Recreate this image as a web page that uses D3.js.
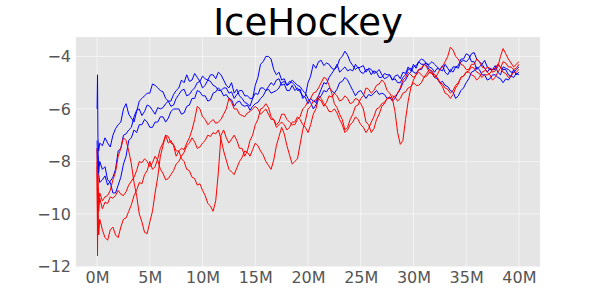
<!DOCTYPE html>
<html>
<head>
<meta charset="utf-8">
<script src="https://cdn.jsdelivr.net/npm/d3@7"></script>
<style>
  body { margin: 0; background: #fff; }
  svg { font-family: "DejaVu Sans", sans-serif; }
</style>
</head>
<body>
<svg id="chart" width="600" height="300"></svg>
<script>
// training steps in millions: a dense start, then every 0.25M
const stepsStart = [0, 0.04, 0.08, 0.15];
const steps = stepsStart.concat(d3.range(1, 161).map(i => i * 0.25));

// blue runs (4 start values, then 8 values per 2M)
const blue1 = [-6.0, -4.7, -7.1, -7.6,
  -7.3, -7.4, -7.1, -7.3, -7.45, -7.0, -6.75, -6.6,
  -6.5, -6.0, -5.8, -6.2, -6.35, -6.5, -6.1, -5.7,
  -5.6, -5.5, -5.4, -5.4, -5.05, -5.1, -5.2, -5.3,
  -5.35, -5.6, -5.7, -5.7, -5.45, -5.3, -5.2, -4.9,
  -5.0, -4.7, -4.95, -4.9, -4.65, -4.8, -4.95, -4.75,
  -4.85, -4.9, -4.7, -4.7, -4.85, -4.6, -4.7, -4.9,
  -5.1, -5.2, -5.0, -5.4, -5.25, -5.5, -5.6, -5.75,
  -5.8, -5.9, -5.6, -5.1, -4.8, -4.3, -4.2, -4.0,
  -4.0, -4.1, -4.5, -4.7, -4.6, -4.9, -4.85, -5.1,
  -4.95, -5.0, -5.1, -5.3, -5.25, -5.6, -5.5, -5.0,
  -4.75, -4.3, -4.45, -4.2, -4.15, -4.35, -4.25, -4.3,
  -4.45, -4.5, -4.3, -4.6, -4.5, -4.4, -4.55, -4.5,
  -4.55, -4.3, -4.45, -4.4, -4.35, -4.6, -4.45, -4.5,
  -4.65, -4.6, -4.5, -4.7, -4.85, -4.8, -4.7, -4.9,
  -4.75, -4.7, -4.85, -4.6, -4.65, -4.4, -4.55, -4.3,
  -4.45, -4.2, -4.1, -4.15, -4.3, -4.3, -4.2, -4.3,
  -4.4, -4.5, -4.35, -4.6, -4.7, -4.5, -4.6, -4.4,
  -4.45, -4.2, -4.15, -4.2, -4.1, -3.9, -3.85, -4.1,
  -4.2, -4.3, -4.15, -4.4, -4.5, -4.5, -4.35, -4.6,
  -4.7, -4.4, -4.45, -4.5, -4.6, -4.6, -4.5, -4.4];
const blue2 = [-7.5, -8.3, -7.8, -8.5,
  -8.8, -8.7, -8.55, -8.9, -8.75, -8.6, -8.3, -7.6,
  -7.5, -7.0, -6.95, -6.8, -6.7, -6.3, -6.05, -6.0,
  -6.25, -6.1, -5.85, -5.9, -6.05, -6.2, -5.95, -6.0,
  -5.95, -5.8, -5.7, -5.9, -5.85, -5.6, -5.45, -5.3,
  -5.25, -5.5, -5.45, -5.3, -5.2, -5.0, -4.95, -5.2,
  -5.1, -4.9, -4.95, -5.1, -5.15, -5.3, -5.3, -5.2,
  -5.2, -5.4, -5.35, -5.6, -5.45, -5.3, -5.3, -5.5,
  -5.5, -5.6, -5.6, -5.4, -5.45, -5.2, -5.2, -5.3,
  -5.15, -5.0, -5.1, -4.9, -4.85, -5.1, -5.05, -5.3,
  -5.3, -5.1, -5.3, -5.2, -5.35, -5.5, -5.55, -5.8,
  -5.6, -5.7, -5.75, -5.5, -5.25, -5.0, -5.05, -4.8,
  -4.65, -4.5, -4.4, -4.1, -4.0, -3.8, -3.95, -4.2,
  -4.35, -4.5, -4.4, -4.6, -4.65, -4.5, -4.5, -4.7,
  -4.55, -4.6, -4.8, -4.8, -4.65, -4.7, -4.7, -4.9,
  -4.85, -5.0, -5.0, -4.8, -4.7, -4.5, -4.45, -4.6,
  -4.65, -4.5, -4.5, -4.3, -4.25, -4.4, -4.45, -4.6,
  -4.45, -4.5, -4.55, -4.3, -4.45, -4.6, -4.4, -4.4,
  -4.35, -4.1, -4.1, -3.9, -3.95, -4.2, -4.2, -4.5,
  -4.4, -4.3, -4.45, -4.6, -4.45, -4.5, -4.5, -4.3,
  -4.4, -4.5, -4.5, -4.7, -4.75, -4.5, -4.7, -4.6];
const blue3 = [-7.2, -8.0, -7.6, -8.4,
  -8.0, -8.3, -8.2, -8.7, -8.8, -9.2, -9.2, -8.9,
  -8.6, -8.1, -7.8, -7.2, -7.1, -6.8, -6.9, -6.6,
  -6.6, -6.4, -6.5, -6.7, -6.7, -6.5, -6.5, -6.3,
  -6.3, -6.5, -6.35, -6.1, -6.0, -6.0, -6.0, -6.2,
  -6.15, -5.9, -5.85, -5.6, -5.6, -5.3, -5.35, -5.5,
  -5.5, -5.7, -5.65, -5.4, -5.35, -5.2, -5.3, -5.5,
  -5.45, -5.6, -5.65, -5.9, -5.75, -5.7, -5.85, -5.9,
  -5.85, -6.05, -5.9, -5.8, -5.75, -5.6, -5.5, -5.3,
  -5.25, -5.4, -5.35, -5.3, -5.2, -5.0, -4.95, -5.1,
  -5.05, -4.9, -5.0, -5.1, -5.15, -5.3, -5.4, -5.6,
  -5.75, -6.0, -5.85, -5.6, -5.5, -5.3, -5.35, -5.2,
  -5.3, -5.4, -5.25, -5.0, -4.95, -4.8, -4.9, -5.1,
  -5.3, -5.5, -5.35, -5.3, -5.45, -5.6, -5.45, -5.5,
  -5.4, -5.3, -5.45, -5.4, -5.45, -5.6, -5.55, -5.7,
  -5.6, -5.4, -5.25, -5.0, -4.9, -4.7, -4.6, -4.4,
  -4.35, -4.2, -4.3, -4.3, -4.35, -4.5, -4.6, -4.8,
  -4.85, -5.0, -4.95, -5.1, -5.15, -5.3, -5.35, -5.6,
  -5.5, -5.3, -5.2, -5.0, -4.85, -4.6, -4.55, -4.4,
  -4.5, -4.7, -4.7, -4.9, -4.85, -4.7, -4.7, -4.8,
  -4.85, -5.0, -4.85, -4.9, -4.75, -4.8, -4.65, -4.7];

// red runs (4 start values, then 8 values per 2M)
const red1 = [-7.5, -11.6, -9.5, -10.8,
  -10.2, -10.6, -10.9, -11.0, -10.6, -10.5, -10.8, -10.9,
  -10.5, -10.2, -10.15, -9.9, -9.65, -9.3, -9.1, -8.8,
  -8.85, -8.5, -8.35, -8.0, -8.3, -8.2, -7.9, -7.5,
  -7.3, -7.0, -7.3, -7.2, -7.4, -7.8, -7.6, -7.5,
  -7.55, -7.3, -7.1, -6.8, -6.4, -5.9, -6.0, -6.3,
  -6.4, -6.6, -6.5, -6.4, -6.55, -6.5, -6.4, -6.2,
  -6.0, -5.6, -5.75, -6.0, -6.0, -6.2, -6.25, -6.3,
  -6.15, -6.1, -6.0, -5.9, -6.0, -6.2, -6.1, -6.0,
  -6.2, -6.4, -6.4, -6.6, -6.5, -6.2, -6.2, -6.4,
  -6.5, -6.6, -6.6, -6.4, -6.3, -6.0, -5.9, -5.7,
  -5.6, -5.4, -5.35, -5.2, -5.0, -4.8, -4.85, -5.1,
  -5.4, -5.8, -5.95, -6.2, -6.4, -6.8, -6.7, -6.4,
  -6.2, -5.9, -5.85, -5.6, -5.5, -5.2, -5.25, -5.4,
  -5.3, -5.1, -5.05, -4.9, -5.0, -5.3, -5.4, -5.6,
  -5.5, -5.4, -5.2, -4.9, -4.8, -4.6, -4.7, -4.8,
  -4.7, -4.5, -4.45, -4.3, -4.4, -4.6, -4.65, -4.8,
  -4.7, -4.5, -4.4, -4.2, -4.0, -3.65, -3.75, -4.0,
  -4.1, -4.3, -4.35, -4.5, -4.5, -4.3, -4.3, -4.1,
  -4.2, -4.4, -4.45, -4.6, -4.7, -4.9, -4.8, -4.6,
  -4.45, -4.2, -4.25, -4.4, -4.4, -4.5, -4.45, -4.3];
const red2 = [-8.0, -9.8, -8.5, -9.6,
  -9.2, -9.5, -9.35, -9.3, -9.1, -8.7, -8.4, -7.8,
  -7.5, -7.1, -7.2, -7.6, -8.1, -8.8, -9.3, -10.0,
  -10.3, -10.7, -10.75, -10.3, -9.9, -9.2, -8.6, -7.8,
  -7.4, -7.0, -7.05, -7.3, -7.35, -7.6, -7.6, -7.9,
  -8.0, -8.3, -8.35, -8.6, -8.65, -8.9, -8.85, -9.1,
  -9.3, -9.6, -9.7, -9.9, -9.5, -8.4, -7.0, -6.8,
  -7.1, -7.3, -7.15, -7.0, -7.2, -7.5, -7.5, -7.8,
  -7.6, -7.2, -7.0, -6.6, -6.4, -6.0, -5.95, -5.8,
  -5.95, -6.3, -6.4, -6.7, -6.6, -6.5, -6.6, -6.8,
  -6.7, -6.5, -6.5, -6.3, -6.4, -6.6, -6.7, -6.9,
  -6.6, -6.2, -6.0, -5.6, -5.7, -5.9, -5.75, -5.5,
  -5.55, -5.4, -5.5, -5.7, -5.65, -5.5, -5.6, -5.8,
  -5.75, -5.6, -5.65, -5.8, -6.0, -6.5, -6.6, -6.9,
  -6.75, -6.4, -6.2, -5.9, -5.8, -5.6, -5.6, -5.5,
  -5.55, -5.7, -5.6, -5.4, -5.35, -5.2, -5.15, -5.0,
  -5.1, -5.1, -5.0, -4.8, -4.75, -4.6, -4.65, -4.7,
  -4.8, -5.0, -5.05, -5.2, -5.25, -5.4, -5.3, -5.1,
  -5.0, -4.8, -4.75, -4.6, -4.55, -4.4, -4.45, -4.6,
  -4.65, -4.8, -4.7, -4.7, -4.65, -4.5, -4.45, -4.3,
  -4.4, -4.6, -4.65, -4.8, -4.75, -4.6, -4.6, -4.5];
const red3 = [-8.2, -10.5, -9.0, -9.9,
  -9.4, -9.8, -9.55, -9.6, -9.35, -9.4, -9.3, -9.1,
  -9.25, -9.3, -9.15, -8.9, -8.75, -8.6, -8.35, -8.0,
  -8.05, -7.9, -8.0, -8.2, -8.05, -7.8, -7.95, -8.3,
  -8.45, -8.7, -8.65, -8.5, -8.35, -8.1, -8.0, -7.8,
  -7.65, -7.4, -7.3, -7.1, -7.25, -7.5, -7.45, -7.3,
  -7.2, -7.0, -7.05, -6.9, -6.95, -6.8, -7.15, -7.6,
  -7.95, -8.3, -8.4, -8.5, -8.25, -8.0, -7.85, -7.6,
  -7.65, -7.8, -7.55, -7.3, -7.4, -7.6, -7.75, -8.0,
  -8.15, -8.3, -7.95, -7.4, -7.05, -6.7, -6.95, -7.4,
  -7.75, -8.1, -8.0, -7.9, -7.35, -6.8, -6.45, -6.0,
  -5.9, -5.7, -5.65, -5.5, -5.6, -5.8, -5.9, -6.1,
  -6.1, -6.0, -6.15, -6.4, -6.6, -6.9, -6.8, -6.6,
  -6.5, -6.3, -6.4, -6.6, -6.7, -6.9, -6.75, -6.5,
  -6.3, -6.0, -5.95, -5.8, -5.75, -5.6, -5.55, -5.6,
  -6.1, -6.9, -7.35, -7.2, -6.4, -5.7, -5.2, -4.9,
  -4.7, -4.6, -4.7, -4.8, -4.65, -4.5, -4.55, -4.7,
  -4.8, -5.0, -5.15, -5.4, -5.45, -5.6, -5.45, -5.2,
  -5.05, -4.8, -4.75, -4.6, -4.6, -4.7, -4.75, -4.9,
  -4.8, -4.6, -4.55, -4.4, -4.45, -4.6, -4.55, -4.4,
  -4.0, -3.7, -3.9, -4.1, -4.25, -4.4, -4.3, -4.2];

const blueRuns = [blue1, blue2, blue3];
const redRuns = [red1, red2, red3];

const xTicks = [0, 5, 10, 15, 20, 25, 30, 35, 40];
const yTicks = [-12, -10, -8, -6, -4];

const svg = d3.select('#chart');
const plot = { left: 76, right: 540, top: 37, bottom: 267 };

const x = d3.scaleLinear().domain([-2, 42]).range([plot.left, plot.right]);
const y = d3.scaleLinear().domain([-12.02, -3.26]).range([plot.bottom, plot.top]);

// panel background
svg.append('rect')
  .attr('x', plot.left).attr('y', plot.top)
  .attr('width', plot.right - plot.left)
  .attr('height', plot.bottom - plot.top)
  .attr('fill', '#e5e5e5');

// grid
svg.append('g')
  .selectAll('line')
  .data(xTicks)
  .join('line')
  .attr('x1', d => x(d)).attr('x2', d => x(d))
  .attr('y1', plot.top).attr('y2', plot.bottom)
  .attr('stroke', '#ffffff').attr('stroke-opacity', 0.55).attr('stroke-width', 1);
svg.append('g')
  .selectAll('line')
  .data(yTicks)
  .join('line')
  .attr('x1', plot.left).attr('x2', plot.right)
  .attr('y1', d => y(d)).attr('y2', d => y(d))
  .attr('stroke', '#ffffff').attr('stroke-opacity', 0.55).attr('stroke-width', 1);

const line = d3.line()
  .x((d, i) => x(steps[i]))
  .y(d => y(d));

svg.append('g')
  .selectAll('path')
  .data(blueRuns)
  .join('path')
  .attr('d', line)
  .attr('fill', 'none')
  .attr('stroke', '#0000ff')
  .attr('stroke-width', 1);

svg.append('g')
  .selectAll('path')
  .data(redRuns)
  .join('path')
  .attr('d', line)
  .attr('fill', 'none')
  .attr('stroke', '#ff0000')
  .attr('stroke-width', 1);

// axes (no domain line or tick marks)
const xAxis = svg.append('g')
  .attr('transform', `translate(0,${plot.bottom})`)
  .call(d3.axisBottom(x).tickValues(xTicks).tickFormat(d => d + 'M').tickSize(0).tickPadding(5));
const yAxis = svg.append('g')
  .attr('transform', `translate(${plot.left},0)`)
  .call(d3.axisLeft(y).tickValues(yTicks).tickFormat(d => d < 0 ? '\u2212' + Math.abs(d) : d).tickSize(0).tickPadding(5));

[xAxis, yAxis].forEach(g => {
  g.select('.domain').remove();
  g.selectAll('text')
    .attr('fill', '#555555')
    .style('font-size', '16px')
    .style('font-family', '"DejaVu Sans", sans-serif');
});

// title
svg.append('text')
  .attr('x', (plot.left + plot.right) / 2)
  .attr('y', 35)
  .attr('text-anchor', 'middle')
  .style('font-size', '37px')
  .attr('fill', '#000')
  .text('IceHockey');
</script>
</body>
</html>
